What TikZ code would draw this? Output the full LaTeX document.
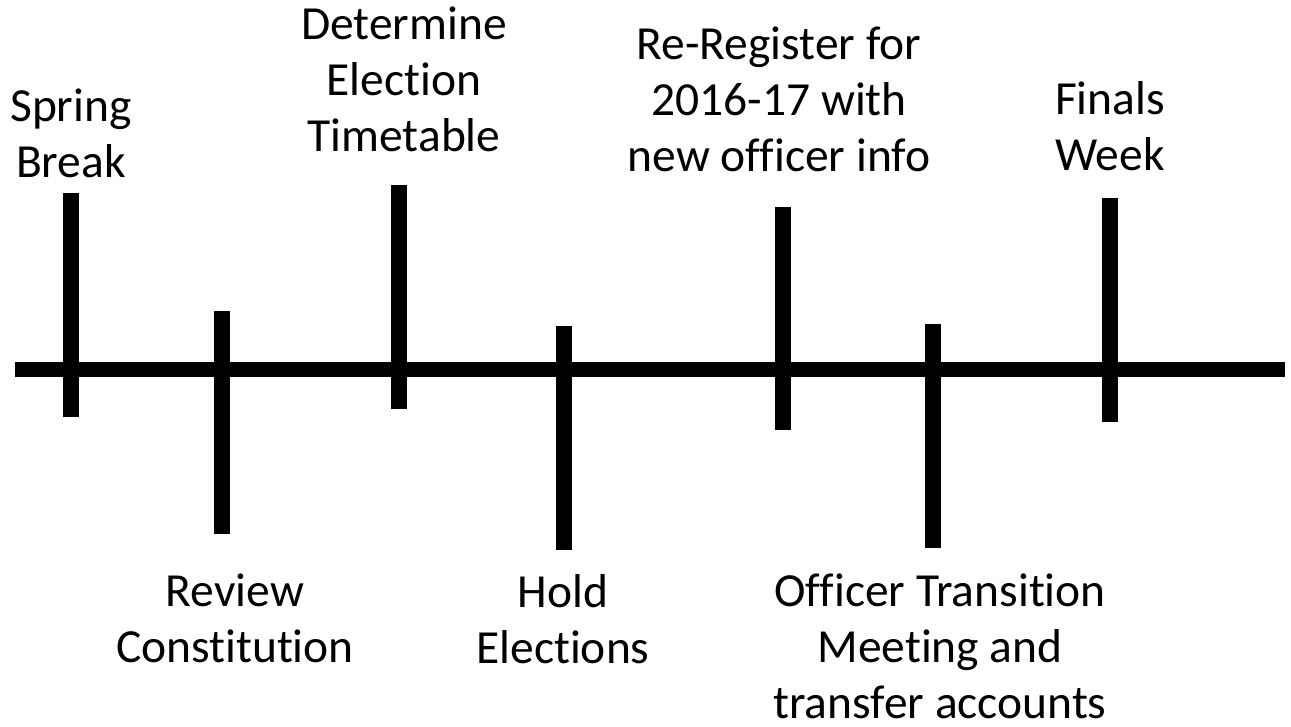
\documentclass[tikz,border=0pt]{standalone}
\usepackage{fontspec}
\setmainfont{Carlito}[Ligatures={NoCommon}]
\tikzset{
  axisline/.style={line width=15pt, line cap=butt, black},
  tick/.style={line width=16pt, line cap=butt, black},
  lbl/.style={anchor=north, inner sep=0pt, align=center,
    font=\fontsize{47.5}{56}\selectfont}
}
\begin{document}
\begin{tikzpicture}[x=1pt,y=-1pt]
\useasboundingbox (0,0) rectangle (1291,727);
% axis
\coordinate (axL) at (15,369.5);
\coordinate (axR) at (1285,369.5);
\draw[axisline] (axL) -- (axR);
% ticks
\coordinate (t1a) at (71,193);  \coordinate (t1b) at (71,417);
\coordinate (t2a) at (222,311); \coordinate (t2b) at (222,534);
\coordinate (t3a) at (399,185); \coordinate (t3b) at (399,409);
\coordinate (t4a) at (564,326); \coordinate (t4b) at (564,550);
\coordinate (t5a) at (783,207); \coordinate (t5b) at (783,430);
\coordinate (t6a) at (933,324); \coordinate (t6b) at (933,548);
\coordinate (t7a) at (1110,198);\coordinate (t7b) at (1110,422);
\foreach \i in {1,...,7} \draw[tick] (t\i a) -- (t\i b);
% labels
\node[lbl] (l1) at (71,89) {Spring\\Break};
\node[lbl] (l3) at (404,7) {Determine\\Election\\Timetable};
\node[lbl] (l5) at (779,27) {Re-Register for\\2016-17 with\\new officer info};
\node[lbl] (l7) at (1110,81) {Finals\\Week};
\node[lbl] (l2) at (235,574) {Review\\Constitution};
\node[lbl] (l4) at (563,574) {Hold\\Elections};
\node[lbl] (l6) at (940,574) {Officer Transition\\Meeting and\\transfer accounts};
\end{tikzpicture}
\end{document}
